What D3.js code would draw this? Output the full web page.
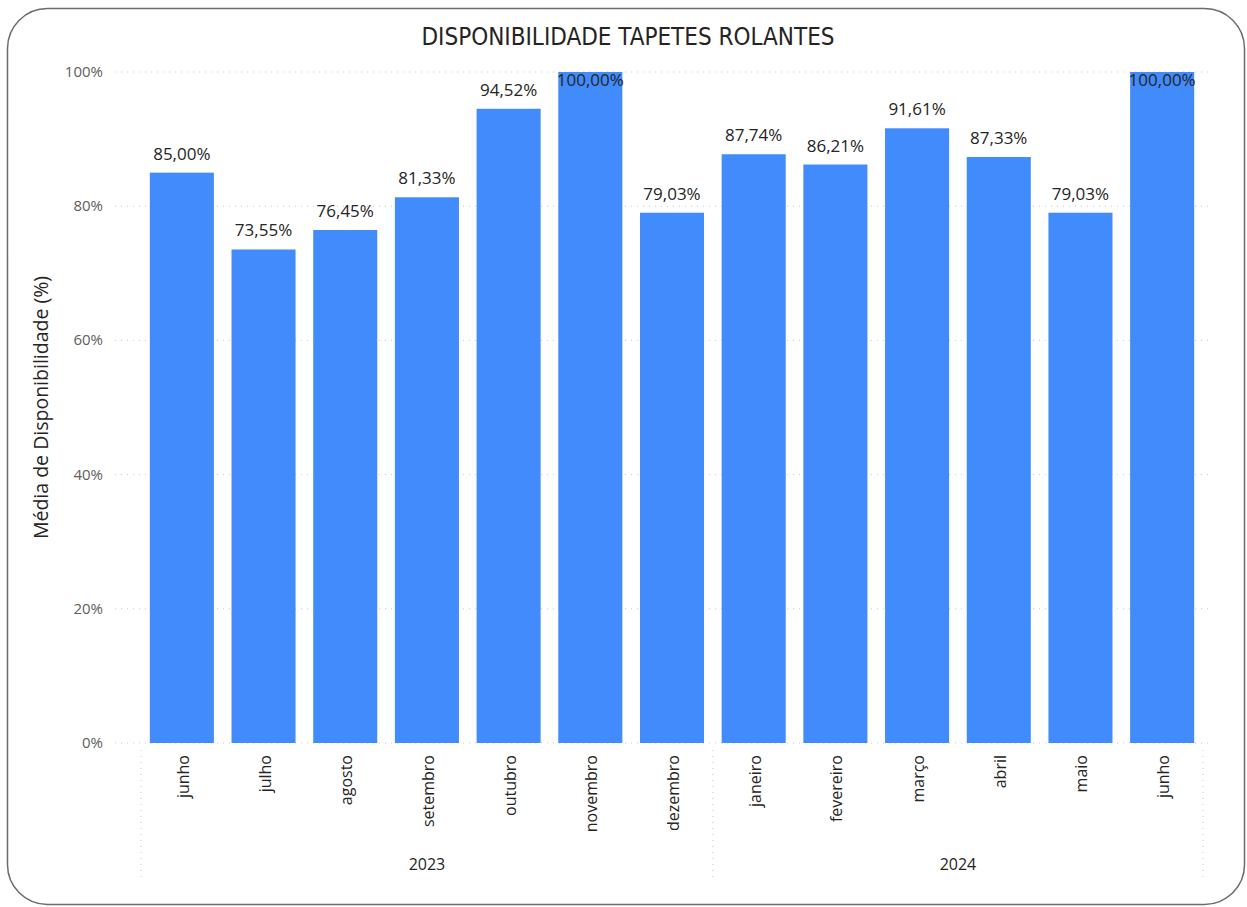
<!DOCTYPE html>
<html>
<head>
<meta charset="utf-8">
<script src="https://cdn.jsdelivr.net/npm/d3@7"></script>
<style>
  body { margin: 0; background: #fff; }
  svg { font-family: "Open Sans", "Noto Sans", sans-serif; }
</style>
</head>
<body>
<script>
var months = ['junho', 'julho', 'agosto', 'setembro', 'outubro', 'novembro', 'dezembro',
  'janeiro', 'fevereiro', 'março', 'abril', 'maio', 'junho'];
var years = ['2023', '2023', '2023', '2023', '2023', '2023', '2023',
  '2024', '2024', '2024', '2024', '2024', '2024'];
var values = [85.00, 73.55, 76.45, 81.33, 94.52, 100.00, 79.03,
  87.74, 86.21, 91.61, 87.33, 79.03, 100.00];
var yTicks = [0, 20, 40, 60, 80, 100];

var width = 1247;
var height = 907;

var svg = d3.select('body').append('svg')
  .attr('width', width)
  .attr('height', height);

// card border
svg.append('rect')
  .attr('x', 7.5).attr('y', 8.5)
  .attr('width', 1237).attr('height', 896)
  .attr('rx', 40)
  .attr('fill', '#fff')
  .attr('stroke', '#6b6b6b')
  .attr('stroke-width', 1.5);

svg.append('text')
  .attr('x', 628).attr('y', 45)
  .attr('text-anchor', 'middle')
  .style('font-family', '"DejaVu Sans", sans-serif')
  .style('font-stretch', 'condensed')
  .attr('font-size', 24)
  .attr('fill', '#252423')
  .text('DISPONIBILIDADE TAPETES ROLANTES');

var keys = months.map(function(m, i) { return i; });

var x = d3.scaleBand()
  .domain(keys)
  .range([141, 1203])
  .paddingInner(0.216)
  .paddingOuter(0.108);

var y = d3.scaleLinear()
  .domain([0, 100])
  .range([743, 72]);

// gridlines
svg.append('g').selectAll('line')
  .data(yTicks)
  .enter().append('line')
  .attr('x1', 115).attr('x2', 1212)
  .attr('y1', function(d) { return y(d); })
  .attr('y2', function(d) { return y(d); })
  .attr('stroke', '#c8c8c8')
  .attr('stroke-width', 1)
  .attr('stroke-dasharray', '1,5');

svg.append('g').selectAll('text')
  .data(yTicks)
  .enter().append('text')
  .attr('x', 103)
  .attr('y', function(d) { return y(d) + 5; })
  .attr('text-anchor', 'end')
  .attr('font-size', 15)
  .attr('fill', '#605e5c')
  .text(function(d) { return d + '%'; });

svg.append('text')
  .attr('transform', 'translate(48,' + ((72 + 743) / 2) + ') rotate(-90)')
  .attr('text-anchor', 'middle')
  .attr('font-size', 19.5)
  .attr('fill', '#252423')
  .text('Média de Disponibilidade (%)');

// bars
svg.append('g').selectAll('rect')
  .data(values)
  .enter().append('rect')
  .attr('x', function(d, i) { return x(i); })
  .attr('y', function(d) { return y(d); })
  .attr('width', x.bandwidth())
  .attr('height', function(d) { return y(0) - y(d); })
  .attr('fill', '#418bfc');

// data labels
svg.append('g').selectAll('text')
  .data(values)
  .enter().append('text')
  .attr('x', function(d, i) { return x(i) + x.bandwidth() / 2; })
  .attr('y', function(d) { return d >= 99 ? y(d) + 14 : y(d) - 13; })
  .attr('text-anchor', 'middle')
  .attr('font-size', 17)
  .attr('fill', '#252423')
  .text(function(d) { return d.toFixed(2).replace('.', ',') + '%'; });

// month labels
svg.append('g').selectAll('text')
  .data(months)
  .enter().append('text')
  .attr('transform', function(d, i) {
    return 'translate(' + (x(i) + x.bandwidth() / 2 + 7) + ',755) rotate(-90)';
  })
  .attr('text-anchor', 'end')
  .attr('font-size', 16)
  .attr('fill', '#252423')
  .text(function(d) { return d; });

// year groups
var yearNames = Array.from(new Set(years));
var groups = yearNames.map(function(yr) {
  var idx = keys.filter(function(i) { return years[i] === yr; });
  var first = idx[0], last = idx[idx.length - 1];
  return {
    name: yr,
    x0: x(first) - x.step() * x.paddingInner() / 2,
    x1: x(last) + x.bandwidth() + x.step() * x.paddingInner() / 2
  };
});

var bounds = [groups[0].x0].concat(groups.map(function(g) { return g.x1; }));
svg.append('g').selectAll('line')
  .data(bounds)
  .enter().append('line')
  .attr('x1', function(d) { return d; })
  .attr('x2', function(d) { return d; })
  .attr('y1', 750).attr('y2', 882)
  .attr('stroke', '#c8c8c8')
  .attr('stroke-dasharray', '1,5');

svg.append('g').selectAll('text')
  .data(groups)
  .enter().append('text')
  .attr('x', function(d) { return (d.x0 + d.x1) / 2; })
  .attr('y', 870)
  .attr('text-anchor', 'middle')
  .attr('font-size', 16)
  .attr('fill', '#252423')
  .text(function(d) { return d.name; });
</script>
</body>
</html>
